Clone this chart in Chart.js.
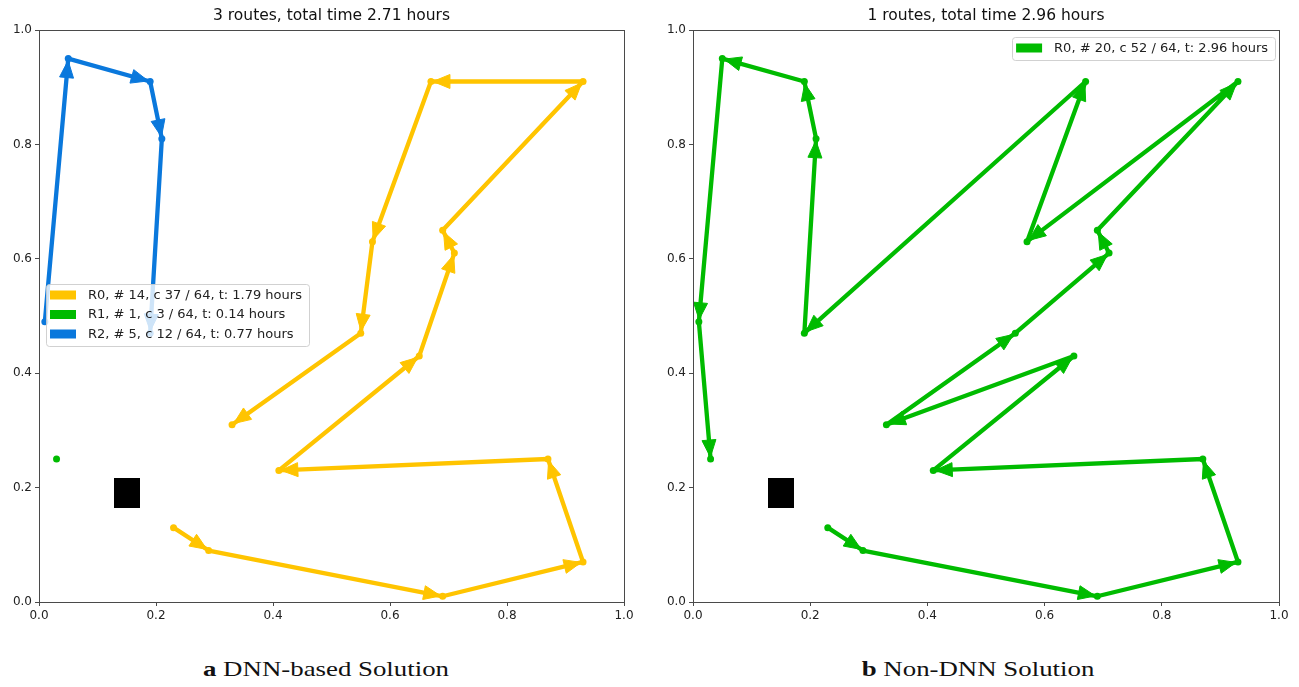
<!DOCTYPE html>
<html><head><meta charset="utf-8">
<script src="https://cdn.jsdelivr.net/npm/chart.js@4/dist/chart.umd.min.js"></script>
<style>
html,body{margin:0;padding:0;background:#fff;width:1299px;height:687px;overflow:hidden;}
.wrap{position:absolute;top:0;height:640px;}
#w1{left:0;width:650px;}
#w2{left:650px;width:649px;}
.cap{position:absolute;top:658px;line-height:22px;font-family:"Liberation Serif","Times New Roman",serif;font-size:22px;color:#111;white-space:nowrap;transform:translateX(-50%) scaleX(1.22);}
</style></head><body>
<div class="wrap" id="w1"><canvas id="c1" width="650" height="640"></canvas></div>
<div class="wrap" id="w2"><canvas id="c2" width="649" height="640"></canvas></div>
<div class="cap" style="left:326px"><b>a</b> DNN-based Solution</div>
<div class="cap" style="left:978px"><b>b</b> Non-DNN Solution</div>
<script>
// ---- data ----
const xTickValues = [0, 0.2, 0.4, 0.6, 0.8, 1.0];
const xTickLabels = ['0.0', '0.2', '0.4', '0.6', '0.8', '1.0'];
const yTickValues = [0, 0.2, 0.4, 0.6, 0.8, 1.0];
const yTickLabels = ['0.0', '0.2', '0.4', '0.6', '0.8', '1.0'];

const dnnTitle = '3 routes, total time 2.71 hours';
const nonTitle = '1 routes, total time 2.96 hours';

const dnnR0X = [0.23, 0.29, 0.69, 0.93, 0.87, 0.41, 0.65, 0.71, 0.69, 0.93, 0.67, 0.57, 0.55, 0.33];
const dnnR0Y = [0.13, 0.09, 0.01, 0.07, 0.25, 0.23, 0.43, 0.61, 0.65, 0.91, 0.91, 0.63, 0.47, 0.31];
const dnnR1X = [0.03];
const dnnR1Y = [0.25];
const dnnR2X = [0.01, 0.05, 0.19, 0.21, 0.19];
const dnnR2Y = [0.49, 0.95, 0.91, 0.81, 0.47];
const dnnLabels = ['R0, # 14, c 37 / 64, t: 1.79 hours', 'R1, # 1, c 3 / 64, t: 0.14 hours', 'R2, # 5, c 12 / 64, t: 0.77 hours'];

const nonR0X = [0.23, 0.29, 0.69, 0.93, 0.87, 0.41, 0.65, 0.33, 0.55, 0.71, 0.69, 0.93, 0.57, 0.67, 0.19, 0.21, 0.19, 0.05, 0.01, 0.03];
const nonR0Y = [0.13, 0.09, 0.01, 0.07, 0.25, 0.23, 0.43, 0.31, 0.47, 0.61, 0.65, 0.91, 0.63, 0.91, 0.47, 0.81, 0.91, 0.95, 0.49, 0.25];
const nonLabels = ['R0, # 20, c 52 / 64, t: 2.96 hours'];

const depotX = [0.15];
const depotY = [0.19];

// ---- styles ----
const YELLOW = '#ffc400', GREEN = '#00bb00', BLUE = '#0a78dc';
const AXIS = '#4a4a4a', TXT = '#222';

const zip = (xs, ys) => xs.map((x, i) => ({x: x, y: ys[i]}));

const depotImg = document.createElement('canvas');
depotImg.width = 26; depotImg.height = 30;
(function(){ const c = depotImg.getContext('2d'); c.fillStyle = '#000'; c.fillRect(0, 0, 26, 30); })();

function routeDS(label, xs, ys, color) {
  return {label: label, data: zip(xs, ys), showLine: true, arrows: true,
    borderColor: color, backgroundColor: color, borderWidth: 4.3,
    borderCapStyle: 'round', borderJoinStyle: 'round',
    pointRadius: 3.5, pointBackgroundColor: color, pointBorderWidth: 0, legend: true};
}
function depotDS() {
  return {label: 'depot', data: zip(depotX, depotY), showLine: false,
    pointStyle: depotImg, pointRadius: 15, legend: false};
}

const arrowPlugin = {
  id: 'arrows',
  afterDatasetsDraw(chart) {
    const ctx = chart.ctx;
    chart.data.datasets.forEach((ds, i) => {
      if (!ds.arrows) return;
      const pts = chart.getDatasetMeta(i).data;
      ctx.save();
      ctx.fillStyle = ds.borderColor;
      ctx.strokeStyle = ds.borderColor;
      ctx.lineWidth = 1;
      ctx.lineJoin = 'round';
      for (let k = 1; k < pts.length; k++) {
        const a = pts[k - 1], b = pts[k];
        const dx = b.x - a.x, dy = b.y - a.y, L = Math.hypot(dx, dy);
        if (L < 1) continue;
        const ux = dx / L, uy = dy / L;
        const tx = b.x - ux * 2, ty = b.y - uy * 2;
        const bx = tx - ux * 17, by = ty - uy * 17;
        ctx.beginPath();
        ctx.moveTo(tx, ty);
        ctx.lineTo(bx - uy * 7, by + ux * 7);
        ctx.lineTo(bx + uy * 7, by - ux * 7);
        ctx.closePath();
        ctx.fill();
        ctx.stroke();
      }
      ctx.restore();
    });
  }
};

const framePlugin = {
  id: 'frame',
  afterDatasetsDraw(chart) {
    const a = chart.chartArea, ctx = chart.ctx;
    ctx.save();
    ctx.strokeStyle = AXIS; ctx.lineWidth = 1;
    ctx.strokeRect(Math.round(a.left) + 0.5, Math.round(a.top) + 0.5, Math.round(a.right - a.left), Math.round(a.bottom - a.top));
    ctx.restore();
  }
};

const boxLegendPlugin = {
  id: 'boxLegend',
  afterDraw(chart, args, opts) {
    const ctx = chart.ctx, a = chart.chartArea;
    const items = chart.data.datasets.filter(d => d.legend);
    ctx.save();
    ctx.font = '13px "DejaVu Sans"';
    let tw = 0;
    items.forEach(d => { tw = Math.max(tw, ctx.measureText(d.label).width); });
    const w = 4 + 26 + 12 + tw + 7;
    const rowH = 19.5;
    const h = 11 + (items.length - 1) * rowH + 12;
    const x = opts.anchor === 'right' ? a.right - opts.dx - w : a.left + opts.dx;
    const y = a.top + opts.dy;
    ctx.fillStyle = 'rgba(255,255,255,0.8)';
    ctx.strokeStyle = 'rgba(204,204,204,0.9)';
    ctx.lineWidth = 1;
    ctx.beginPath();
    ctx.roundRect(Math.round(x) + 0.5, Math.round(y) + 0.5, Math.round(w), Math.round(h), 3);
    ctx.fill(); ctx.stroke();
    ctx.textBaseline = 'middle';
    ctx.textAlign = 'left';
    items.forEach((d, i) => {
      const cy = y + 11 + i * rowH;
      ctx.fillStyle = d.borderColor;
      ctx.fillRect(x + 4, cy - 4.5, 26, 9);
      ctx.fillStyle = TXT;
      ctx.fillText(d.label, x + 42, cy + 0.5);
    });
    ctx.restore();
  }
};

function makeScales(yWidth) {
  const tickFont = {family: 'DejaVu Sans', size: 12};
  return {
    x: {type: 'linear', min: 0, max: 1,
      afterBuildTicks: s => { s.ticks = xTickValues.map(v => ({value: v})); },
      afterFit: s => { s.height = 38; },
      ticks: {callback: (v, i) => xTickLabels[i], font: tickFont, color: TXT, padding: 3, maxRotation: 0, autoSkip: false},
      grid: {drawOnChartArea: false, drawTicks: true, tickLength: 4, color: AXIS, lineWidth: 1},
      border: {display: true, color: AXIS, width: 1}},
    y: {type: 'linear', min: 0, max: 1,
      afterBuildTicks: s => { s.ticks = yTickValues.map(v => ({value: v})); },
      afterFit: s => { s.width = yWidth; },
      ticks: {callback: (v, i) => yTickLabels[i], font: tickFont, color: TXT, padding: 3, autoSkip: false},
      grid: {drawOnChartArea: false, drawTicks: true, tickLength: 4, color: AXIS, lineWidth: 1},
      border: {display: true, color: AXIS, width: 1}}
  };
}

function makeChart(id, datasets, title, yWidth, padRight, legendOpts) {
  return new Chart(document.getElementById(id), {
    type: 'scatter',
    data: {datasets: datasets},
    options: {
      responsive: false, animation: false, events: [],
      devicePixelRatio: 1,
      layout: {padding: {left: 0, right: padRight, top: 0, bottom: 0}},
      scales: makeScales(yWidth),
      plugins: {
        legend: {display: false},
        tooltip: {enabled: false},
        title: {display: true, text: title, fullSize: false, color: '#111',
          font: {family: 'DejaVu Sans', size: 15.5, weight: 'normal', lineHeight: 1.2},
          padding: {top: 6.7, bottom: 4.7}},
        boxLegend: legendOpts
      }
    },
    plugins: [arrowPlugin, framePlugin, boxLegendPlugin]
  });
}

makeChart('c1', [
  routeDS(dnnLabels[0], dnnR0X, dnnR0Y, YELLOW),
  routeDS(dnnLabels[1], dnnR1X, dnnR1Y, GREEN),
  routeDS(dnnLabels[2], dnnR2X, dnnR2Y, BLUE),
  depotDS()
], dnnTitle, 39, 26, {anchor: 'left', dx: 7, dy: 254});

makeChart('c2', [
  routeDS(nonLabels[0], nonR0X, nonR0Y, GREEN),
  depotDS()
], nonTitle, 43, 20, {anchor: 'right', dx: 4, dy: 7});
</script>
</body></html>
